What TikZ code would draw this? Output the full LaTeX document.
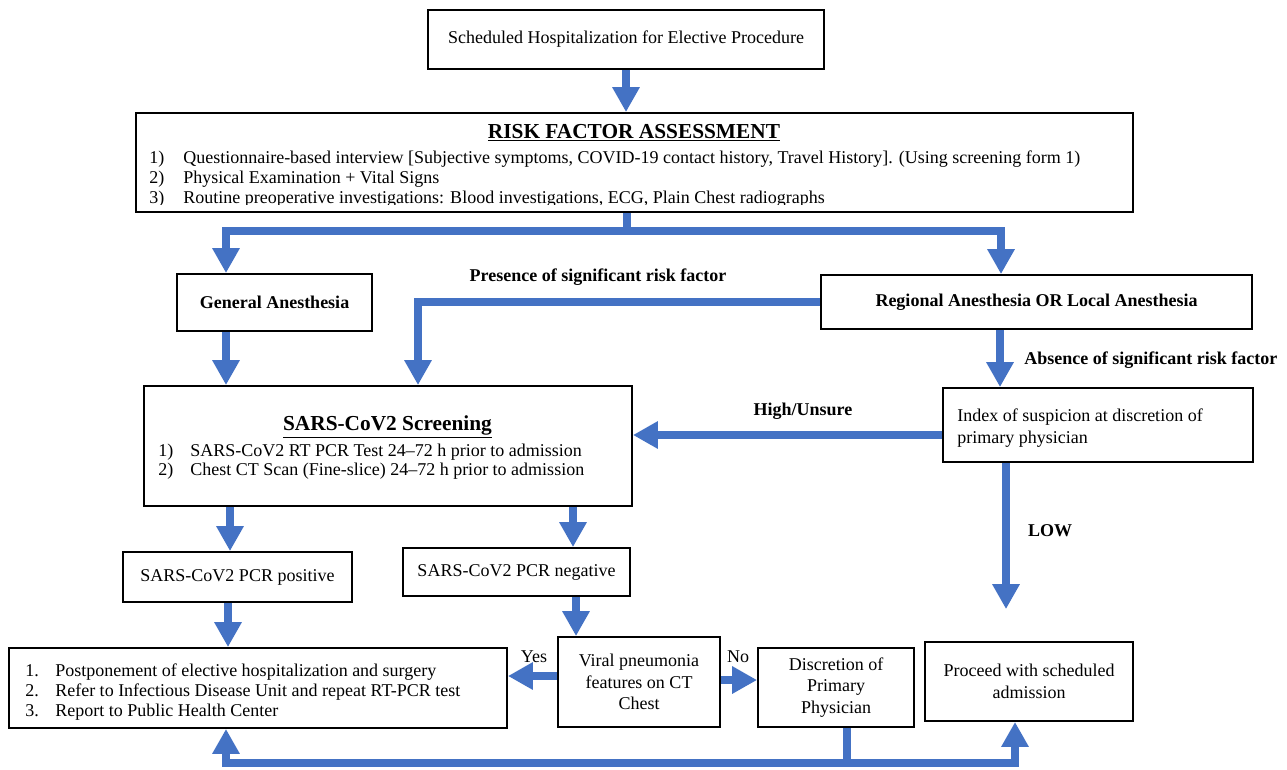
\documentclass[tikz,border=0pt]{standalone}
\usepackage{fontspec}
\setmainfont{Liberation Serif}
\usetikzlibrary{arrows.meta,calc}
\definecolor{flow}{RGB}{68,114,196}
\tikzset{
  box/.style={draw=black, line width=1.4pt, fill=white, inner sep=0pt, align=center,
    font=\fontsize{13.5}{16.1}\selectfont},
  conn/.style={draw=flow, line width=6.4pt},
  arr/.style={conn, -{Triangle[width=19.5pt,length=18.75pt]}},
  txt/.style={inner sep=0pt, font=\fontsize{13.5}{16.1}\selectfont},
  btxt/.style={inner sep=0pt, font=\fontsize{13.5}{16.1}\selectfont\bfseries},
  ttl/.style={inner sep=0pt, font=\fontsize{16}{19}\selectfont\bfseries},
}
\begin{document}
\begin{tikzpicture}[x=0.75pt,y=-0.75pt]
\useasboundingbox (0,0) rectangle (1287,769);

% ---------- boxes ----------
\node[box, minimum width=297pt, minimum height=44.25pt] (top) at (626,39.5)
  {Scheduled Hospitalization for Elective Procedure};
\node[box, minimum width=747.75pt, minimum height=74.25pt] (risk) at (634.5,162.5) {};
\node[box, minimum width=146.25pt, minimum height=42.75pt, font=\fontsize{13.5}{16.1}\selectfont\bfseries] (general) at (274.5,302.5) {General Anesthesia};
\node[box, minimum width=323.25pt, minimum height=40.5pt, font=\fontsize{13.5}{16.1}\selectfont\bfseries] (regional) at (1036.5,302) {Regional Anesthesia OR Local Anesthesia};
\node[box, minimum width=366pt, minimum height=90pt] (sars) at (388,446) {};
\node[box, minimum width=232.5pt, minimum height=55.5pt] (index) at (1098,425) {};
\node[box, minimum width=171.75pt, minimum height=37.5pt] (positive) at (237.5,577) {SARS-CoV2 PCR positive};
\node[box, minimum width=170.25pt, minimum height=36pt] (negative) at (516.5,572) {SARS-CoV2 PCR negative};
\node[box, minimum width=373.5pt, minimum height=60pt] (post) at (258,688) {};
\node[box, minimum width=121.5pt, minimum height=67.5pt] (viral) at (639,682)
  {Viral pneumonia\\features on CT\\Chest};
\node[box, minimum width=117pt, minimum height=59.25pt] (disc) at (836,687.5)
  {Discretion of\\Primary\\Physician};
\node[box, minimum width=156pt, minimum height=59.25pt] (proceed) at (1029,681.5)
  {Proceed with scheduled\\admission};

% ---------- texts inside boxes ----------
\node[ttl] (riskT) at (634,133) {\underline{RISK FACTOR ASSESSMENT}};
\node[txt, anchor=base west] (r1n) at (149,163) {1)};
\node[txt, anchor=base west] (r1) at (183,163) {Questionnaire-based interview [Subjective symptoms, COVID-19 contact history, Travel History]. (Using screening form 1)};
\node[txt, anchor=base west] (r2n) at (149,183) {2)};
\node[txt, anchor=base west] (r2) at (183,183) {Physical Examination + Vital Signs};
\begin{scope}
  \clip (140,188) rectangle (1130,204);
  \node[txt, anchor=base west] (r3n) at (149,203) {3)};
  \node[txt, anchor=base west] (r3) at (183,203) {Routine preoperative investigations: Blood investigations, ECG, Plain Chest radiographs};
\end{scope}

\node[ttl] (sarsT) at (387.5,427) {\underline{SARS-CoV2 Screening}};
\node[txt, anchor=base west] (s1n) at (158,456) {1)};
\node[txt, anchor=base west] (s1) at (190,456) {SARS-CoV2 RT PCR Test 24–72 h prior to admission};
\node[txt, anchor=base west] (s2n) at (158,475) {2)};
\node[txt, anchor=base west] (s2) at (190,475) {Chest CT Scan (Fine-slice) 24–72 h prior to admission};

\node[txt, anchor=base west] (i1) at (957,421) {Index of suspicion at discretion of};
\node[txt, anchor=base west] (i2) at (957,443) {primary physician};

\node[txt, anchor=base west] (p1n) at (25,676) {1.};
\node[txt, anchor=base west] (p1) at (55,676) {Postponement of elective hospitalization and surgery};
\node[txt, anchor=base west] (p2n) at (25,696) {2.};
\node[txt, anchor=base west] (p2) at (55,696) {Refer to Infectious Disease Unit and repeat RT-PCR test};
\node[txt, anchor=base west] (p3n) at (25,716) {3.};
\node[txt, anchor=base west] (p3) at (55,716) {Report to Public Health Center};

% ---------- labels ----------
\node[btxt] (lPres) at (598,277) {Presence of significant risk factor};
\node[btxt, anchor=west] (lAbs) at (1024,360) {Absence of significant risk factor};
\node[btxt] (lHigh) at (803,411) {High/Unsure};
\node[btxt] (lLow) at (1050,531) {LOW};
\node[txt] (lYes) at (534,657) {Yes};
\node[txt] (lNo) at (738,657) {No};

% ---------- helper coordinates ----------
\coordinate (xTop) at (627,0);
\coordinate (split) at (627,231);
\coordinate (xGA) at (226,0);
\coordinate (xRA) at (1001,0);
\coordinate (xPres) at (418,0);
\coordinate (xAbs) at (1000,0);
\coordinate (yHigh) at (0,435);
\coordinate (xLow) at (1006,0);
\coordinate (xPos) at (230,0);
\coordinate (xNeg) at (573,0);
\coordinate (xPos2) at (228,0);
\coordinate (xNeg2) at (576,0);
\coordinate (yYes) at (0,676);
\coordinate (yNo) at (0,680);
\coordinate (bj) at (847,763);
\coordinate (xPL) at (226,0);
\coordinate (xPR) at (1015,0);

% ---------- connectors ----------
\draw[arr] (top.south) -- (top.south |- risk.north);
\draw[conn] (xTop |- risk.south) -- (split);
\draw[arr] (split) -| (xGA |- general.north);
\draw[arr] (split) -| (xRA |- regional.north);
\draw[arr] (xGA |- general.south) -- (xGA |- sars.north);
\draw[arr] (regional.west) -- (xPres |- regional.west) -- (xPres |- sars.north);
\draw[arr] (xAbs |- regional.south) -- (xAbs |- index.north);
\draw[arr] (yHigh -| index.west) -- (yHigh -| sars.east);
\draw[arr, shorten >=24pt] (xLow |- index.south) -- (xLow |- proceed.north);
\draw[arr] (xPos |- sars.south) -- (xPos |- positive.north);
\draw[arr] (xNeg |- sars.south) -- (xNeg |- negative.north);
\draw[arr] (xPos2 |- positive.south) -- (xPos2 |- post.north);
\draw[arr] (xNeg2 |- negative.south) -- (xNeg2 |- viral.north);
\draw[arr] (yYes -| viral.west) -- (yYes -| post.east);
\draw[arr] (yNo -| viral.east) -- (yNo -| disc.west);
\draw[conn] (bj |- disc.south) -- (bj);
\draw[arr] (bj) -| (xPL |- post.south);
\draw[arr] (bj) -| (xPR |- proceed.south);
\end{tikzpicture}
\end{document}
